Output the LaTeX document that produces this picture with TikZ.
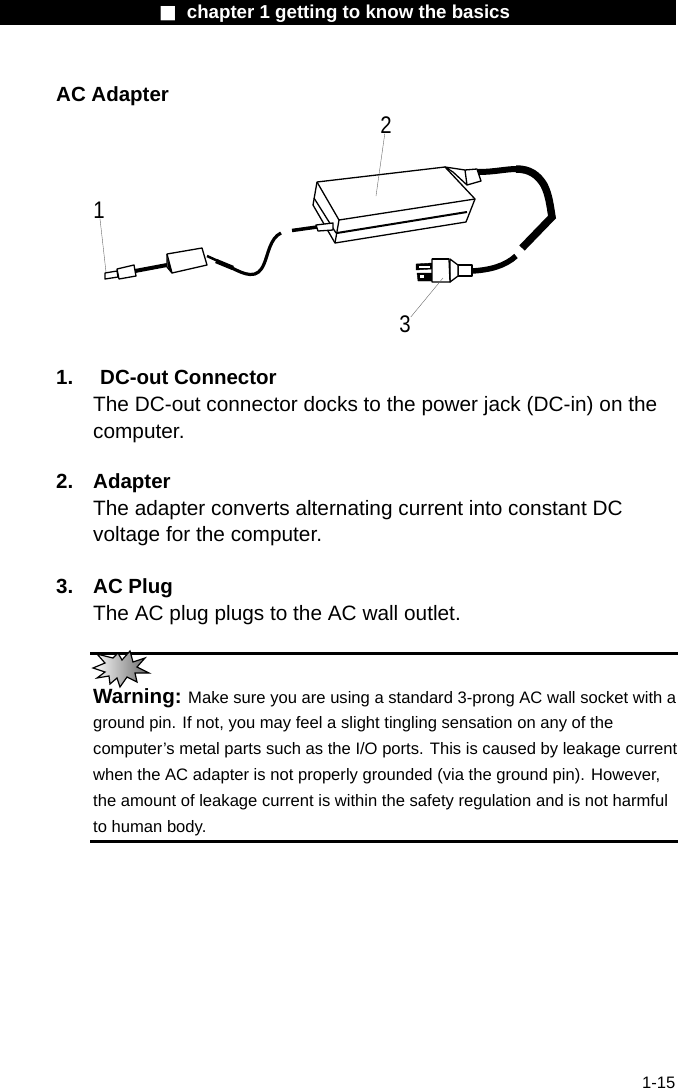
\documentclass[tikz,border=0pt]{standalone}
\usepackage{fontspec}
\setmainfont{Liberation Sans}
\newfontfamily\symbfont{DejaVu Sans}
\tikzset{
    headtext/.style={anchor=base west,inner sep=0pt,font=\bfseries\fontsize{20.5}{24}\selectfont},
    bodytext/.style={anchor=base west,inner sep=0pt,font=\fontsize{20.8}{25}\selectfont},
    notetext/.style={anchor=base west,inner sep=0pt,font=\fontsize{16.6}{20}\selectfont},
    partlabel/.style={inner sep=0pt,xscale=0.85,font=\fontsize{24}{26}\selectfont},
    leader/.style={draw=black!60,line width=0.4pt},
    outline/.style={draw=black,line width=1.3pt,line join=round,fill=white},
    edge line/.style={draw=black,line width=1.3pt},
    cable/.style={draw=black,line cap=butt,line join=miter}
}
\begin{document}
\begin{tikzpicture}[x=1pt,y=-1pt]
    \useasboundingbox (0,0) rectangle (678,1090);
    % Header
    \fill[black] (0,0) rectangle (676,25);
    \node[anchor=base west,inner sep=0pt,text=white,font=\bfseries\fontsize{18.7}{22}\selectfont] (header) at (159,18) {{\symbfont ■}\hspace{10pt}chapter 1 getting to know the basics};
    \node[headtext] (title) at (56,101) {AC Adapter};

    % Cables
    \draw[cable,line width=4pt] (135,271) -- (167,265);
    \draw[cable,line width=2.5pt] (207,256) -- (218,261);
    \draw[cable,line width=4.5pt] (216,261) -- (233,268);
    \draw[cable,line width=3.2pt] (232,268) .. controls (238,271) and (244,274) .. (250,274.5)
        .. controls (257,275) and (261,271) .. (264,264)
        .. controls (268,255) and (270,238) .. (281,233);
    \draw[cable,line width=3.5pt] (292,230.5) -- (317,227);
    \draw[cable,line width=6pt] (478,172) .. controls (495,172) and (505,169) .. (517,169);
    \draw[cable,line width=7.5pt] (516,169) .. controls (530,169) and (538,175) .. (544,185)
        .. controls (549,195) and (550,205) .. (552,217) -- (522,248);
    \draw[cable,line width=5.5pt] (516,256) .. controls (505,266) and (490,270) .. (472,271);

    % DC-out connector
    \draw[outline] (105,273) -- (117,271) -- (118,277) -- (105,279) -- cycle;
    \draw[outline] (117,269) -- (134,265) -- (136,276) -- (119,279) -- cycle;
    \draw[outline] (167,254) -- (202,248) -- (207,265) -- (172,273) -- (167,267) -- cycle;
    \draw[edge line] (167,254) -- (172,273);
    \fill[black] (167,258) -- (171,268) -- (171,272) -- (168,267) -- cycle;

    % Adapter box
    \draw[outline] (317,182) -- (445,167) -- (475,199) -- (466,222) -- (335,243) -- (313,205) -- cycle;
    \draw[edge line] (317,182) -- (339,220) -- (475,199);
    \draw[edge line] (339,220) -- (335,243);
    \draw[draw=black,line width=2pt] (337,233) -- (467,212);
    \draw[edge line] (314,198) -- (336,233);
    \draw[outline] (316,225) -- (333,223) -- (333,230) -- (318,231) -- cycle;
    \draw[outline] (445,167) -- (465,170) -- (477,169) -- (481,181) -- (467,185) -- (453,172) -- cycle;
    \draw[edge line] (465,170) -- (467,185);

    % AC plug
    \draw[outline] (458,265) -- (472,265) -- (472,276) -- (458,276) -- cycle;
    \draw[outline] (450,259) -- (458,265) -- (458,276) -- (450,282) -- cycle;
    \draw[fill=black,draw=black] (416,264) -- (432,263) -- (432,269) -- (416,270) -- cycle;
    \draw[fill=black,draw=black] (417,273) -- (432,273) -- (432,281) -- (418,281) -- cycle;
    \fill[white] (419,266) rectangle (430,267.5);
    \fill[white] (420,275) rectangle (424,277.5);
    \draw[outline] (432,259) -- (449,259) -- (450,282) -- (432,282) -- cycle;
    \draw[draw=black,line width=2.2pt] (432,259) -- (449,259);

    % Part labels and leaders
    \node[partlabel] (one) at (99,210) {1};
    \node[partlabel] (two) at (386,125) {2};
    \node[partlabel] (three) at (405,324) {3};
    \coordinate (tipone) at (106,272);
    \coordinate (tiptwo) at (376,196);
    \coordinate (tipthree) at (443,278);
    \draw[leader] (one) -- (tipone);
    \draw[leader] (two) -- (tiptwo);
    \draw[leader] (three) -- (tipthree);

    % Items
    \node[headtext] (numone) at (56,384) {1.};
    \node[headtext] (headone) at (100,384) {DC-out Connector};
    \node[bodytext] (lineonea) at (93,411) {The DC-out connector docks to the power jack (DC-in) on the};
    \node[bodytext] (lineoneb) at (93,438) {computer.};
    \node[headtext] (numtwo) at (56,488) {2.};
    \node[headtext] (headtwo) at (93,488) {Adapter};
    \node[bodytext] (linetwoa) at (93,515) {The adapter converts alternating current into constant DC};
    \node[bodytext] (linetwob) at (93,541) {voltage for the computer.};
    \node[headtext] (numthree) at (56,593) {3.};
    \node[headtext] (headthree) at (93,593) {AC Plug};
    \node[bodytext] (linethree) at (93,620) {The AC plug plugs to the AC wall outlet.};

    % Warning
    \draw[line width=3pt] (90,653) -- (678,653);
    \draw[line width=3pt] (90,841) -- (678,841);
    \draw[draw=black,line width=1.2pt,line join=miter,left color=white,right color=black!60]
        (97,654) -- (113,658) -- (118,653) -- (122,660) -- (130,651) -- (133,662) -- (145,658)
        -- (137,667) -- (149,673) -- (135,673) -- (137,682) -- (127,677) -- (120,687) -- (117,678)
        -- (110,684) -- (109,676) -- (97,678) -- (105,672) -- (93,668) -- (105,663) -- cycle;
    \node[anchor=base west,inner sep=0pt,font=\bfseries\fontsize{20.6}{24}\selectfont] (warn) at (93,703) {Warning:};
    \node[notetext] (notea) at (188,703) {Make sure you are using a standard 3-prong AC wall socket with a};
    \node[notetext] (noteb) at (93,728) {ground pin. If not, you may feel a slight tingling sensation on any of the};
    \node[notetext] (notec) at (93,754) {computer’s metal parts such as the I/O ports. This is caused by leakage current};
    \node[notetext] (noted) at (93,780) {when the AC adapter is not properly grounded (via the ground pin). However,};
    \node[notetext] (notee) at (93,806) {the amount of leakage current is within the safety regulation and is not harmful};
    \node[notetext] (notef) at (93,832) {to human body.};

    % Page number
    \node[notetext] (page) at (642,1088) {1-15};
\end{tikzpicture}
\end{document}
